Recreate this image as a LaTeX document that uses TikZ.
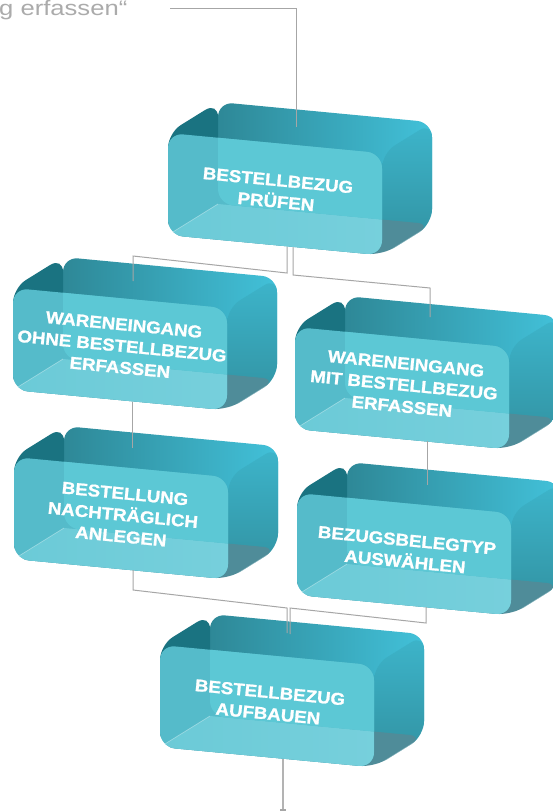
\documentclass[tikz,border=0pt]{standalone}
\usepackage{fontspec}
\newfontfamily\boxfont{Liberation Sans Bold}[FakeStretch=1.1, FakeBold=1.2]
\newfontfamily\greyfont{Liberation Sans}[FakeStretch=1.22]
\definecolor{leftdark}{HTML}{1A7381}
\definecolor{backL}{HTML}{2E8897}
\definecolor{backR}{HTML}{42C1D9}
\definecolor{rightT}{HTML}{3DB5CB}
\definecolor{rightB}{HTML}{31909F}
\definecolor{bottomgrey}{HTML}{4F8C99}
\definecolor{frontc}{HTML}{5CC8D5}
\definecolor{frontleft}{HTML}{55BBCA}
\definecolor{botL}{HTML}{6BCAD7}
\definecolor{botR}{HTML}{79D1DD}
\definecolor{linegrey}{HTML}{A6A6A6}
\definecolor{greytext}{HTML}{ABABAB}
\tikzset{
  conn/.style={draw=linegrey, line width=1pt},
  rface/.style={rounded corners=15pt},
  boxtext/.style={text=white, font=\boxfont\fontsize{17}{21.5}\selectfont,
    align=center, rotate=-5.5, inner sep=0pt},
  hilite/.style={draw=white, draw opacity=0.35, line width=0.7pt},
}
\newcommand\glassbox[4]{%
\begin{scope}[shift={(#2,#3)}]
  \shade[rface, left color=backL, right color=backR]
    (50,-31) -- (264,-10.7) -- (264,91.3) -- (50,71) -- cycle;
  \fill[rface, leftdark] (0,0) -- (50,-31) -- (50,71) -- (0,102) -- cycle;
  \shade[rface, top color=rightT, bottom color=rightB]
    (214,20.3) -- (264,-10.7) -- (264,91.3) -- (214,122.3) -- cycle;
  \fill[rface, bottomgrey] (0,102) -- (50,71) -- (264,91.3) -- (214,122.3) -- cycle;
  \begin{scope}
    \clip[rface] (0,0) -- (214,20.3) -- (214,122.3) -- (0,102) -- cycle;
    \fill[frontleft] (-5,-40) rectangle (220,140);
    \shade[left color=botL, right color=botR]
      (0,102) -- (50,71) -- (264,91.3) -- (214,140) -- (-5,140) -- cycle;
    \fill[rface, frontc] (50,-31) -- (264,-10.7) -- (264,91.3) -- (50,71) -- cycle;
    \draw[hilite] (0,102) -- (50,71);
  \end{scope}
  \draw[hilite] (214,122.3) -- (264,91.3);
  \node[boxtext] (#1) at (109,58) {#4};
\end{scope}}
\begin{document}
\begin{tikzpicture}[x=1pt,y=-1pt]
  \clip (0,0) rectangle (553,811);
  \fill[white] (0,0) rectangle (553,811);

  \node[font=\greyfont\fontsize{21}{25}\selectfont, text=greytext, anchor=base west, inner sep=0pt]
    (lbl) at (-1,15) {g erfassen“};

  \glassbox{b1}{168}{133}{BESTELLBEZUG\\PRÜFEN}
  \glassbox{b2}{13}{288}{WARENEINGANG\\OHNE BESTELLBEZUG\\ERFASSEN}
  \glassbox{b3}{295}{327}{WARENEINGANG\\MIT BESTELLBEZUG\\ERFASSEN}
  \glassbox{b4}{14}{457}{BESTELLUNG\\NACHTRÄGLICH\\ANLEGEN}
  \glassbox{b5}{297}{493}{BEZUGSBELEGTYP\\AUSWÄHLEN}
  \glassbox{b6}{160}{645}{BESTELLBEZUG\\AUFBAUEN}

  % connector end points
  \coordinate (t0) at (170,8);
  \coordinate (b1in) at (296,127);
  \coordinate (b1outL) at (287,247);
  \coordinate (b1outR) at (293,247);
  \coordinate (b2in) at (133,281);
  \coordinate (b3in) at (430,317);
  \coordinate (b2out) at (132,402);
  \coordinate (b4in) at (132,448);
  \coordinate (b3out) at (427,441);
  \coordinate (b5in) at (427,485);
  \coordinate (b4out) at (133,570);
  \coordinate (b5out) at (426,607);
  \coordinate (b6inL) at (287,633);
  \coordinate (b6inR) at (290,634);
  \coordinate (b6out) at (283,759);
  \coordinate (endpt) at (283,810);

  \draw[conn] (t0) -| (b1in);
  \draw[conn] (b1outL) -- (287,273) -- (133,256) -- (b2in);
  \draw[conn] (b1outR) -- (293,275) -- (430,288) -- (b3in);
  \draw[conn] (b2out) -- (b4in);
  \draw[conn] (b3out) -- (b5in);
  \draw[conn] (b4out) -- (133,590) -- (287,608) -- (b6inL);
  \draw[conn] (b5out) -- (426,623) -- (290,608) -- (b6inR);
  \draw[conn, line width=1.6pt, draw=linegrey!85] (b6out) -- (endpt);
  \draw[conn, line width=1.2pt] ([xshift=-3pt]endpt) -- ([xshift=3pt]endpt);
\end{tikzpicture}
\end{document}
